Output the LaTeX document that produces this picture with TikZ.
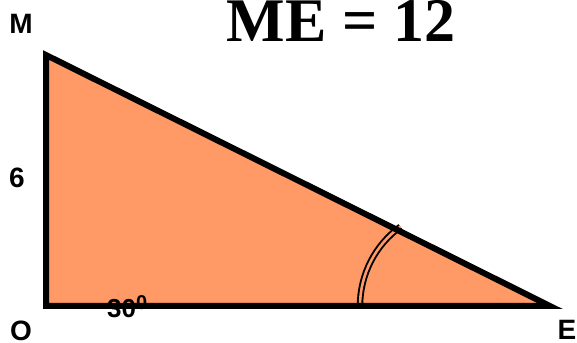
\documentclass[tikz,border=0pt]{standalone}
\usepackage{fontspec}
\setmainfont{Liberation Serif}
\newfontfamily\arialfont{Liberation Sans}
\usetikzlibrary{positioning,calc}
\definecolor{trianglefill}{RGB}{255,153,102}

\begin{document}
\begin{tikzpicture}[x=1pt,y=1pt]

\useasboundingbox (0,0) rectangle (577,342);

% ================= TRIANGLE =================
\coordinate (O) at (46,36);
\coordinate (M) at (46,287);
\coordinate (E) at (550,36);

\fill[trianglefill] (O) -- (M) -- (E) -- cycle;

% ================= ANGLE MARK =================
\coordinate (arcstart) at (360,36);
\draw[
line width=1.9pt,
double=trianglefill,
double distance=2.6pt
] (arcstart) arc[start angle=180, end angle=126, radius=98];

\draw[line width=6pt] (O) -- (M) -- (E) -- cycle;

% ================= VERTEX LABELS =================
\node[
font=\arialfont\bfseries\fontsize{28}{28}\selectfont
] (labelM) at (21,318) {M};

\node[
font=\arialfont\bfseries\fontsize{28}{28}\selectfont
] (labelO) at (21,11) {O};

\node[
font=\arialfont\bfseries\fontsize{28}{28}\selectfont
] (labelE) at (567,12) {E};

\node[
font=\arialfont\bfseries\fontsize{28}{28}\selectfont
] (labelside) at (17,164) {6};

\node[
anchor=base west,
inner sep=0pt,
font=\arialfont\bfseries\fontsize{26}{26}\selectfont
] (labelangle) at (107,24) {30\raisebox{8pt}{\fontsize{20}{20}\selectfont 0}};

% ================= TITLE =================
\node[
anchor=base,
inner sep=0pt,
font=\bfseries\fontsize{62}{62}\selectfont
] (title) at (341,300) {ME = 12};

\end{tikzpicture}
\end{document}
